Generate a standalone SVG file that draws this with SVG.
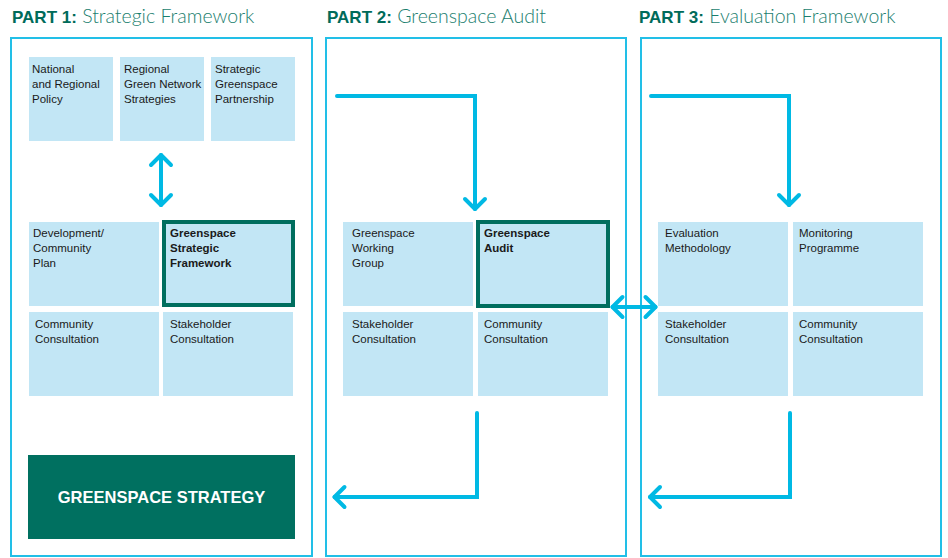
<svg xmlns="http://www.w3.org/2000/svg" width="948" height="558" viewBox="0 0 948 558">
<style>
.panel{fill:#fff;stroke:#22bfe7;stroke-width:2}
.box{fill:#c2e6f5}
.key{fill:#c2e6f5;stroke:#006e5e;stroke-width:4}
.t{font-family:"Liberation Sans",Arial,sans-serif;font-size:11.5px;fill:#1a1a1a}
.b{font-weight:bold}
.title{font-family:"Liberation Sans",Arial,sans-serif;fill:#006b5a}
.tb{font-weight:bold;font-size:17px}
.tr{font-family:Lato,"Liberation Sans",sans-serif;font-weight:300;font-size:19.5px;fill:#1a7e6e}
.con{fill:none;stroke:#00b9e4;stroke-width:4;stroke-linecap:round;stroke-linejoin:miter}
</style>
<defs>
<marker id="chev" viewBox="-14 -14 28 28" markerWidth="28" markerHeight="28" markerUnits="userSpaceOnUse" orient="auto-start-reverse" refX="0" refY="0">
<path d="M-10,-10 L0,0 L-10,10" fill="none" stroke="#00b9e4" stroke-width="4" stroke-linecap="round" stroke-linejoin="round"/>
</marker>
</defs>
<rect width="948" height="558" fill="#fff"/>

<g id="titles">
<text class="title" x="12" y="23"><tspan class="tb">PART 1:</tspan><tspan class="tr"> Strategic Framework</tspan></text>
<text class="title" x="327" y="23"><tspan class="tb">PART 2:</tspan><tspan class="tr"> Greenspace Audit</tspan></text>
<text class="title" x="639" y="23"><tspan class="tb">PART 3:</tspan><tspan class="tr"> Evaluation Framework</tspan></text>
</g>

<g id="panel1"><rect class="panel" x="11" y="38" width="301" height="518"/></g>
<g id="panel2"><rect class="panel" x="326" y="38" width="300" height="518"/></g>
<g id="panel3"><rect class="panel" x="641" y="38" width="300" height="518"/></g>

<g id="national-policy"><rect class="box" x="29" y="57" width="84" height="84"/>
<text class="t" x="32" y="73">National<tspan x="32" dy="15">and Regional</tspan><tspan x="32" dy="15">Policy</tspan></text></g>
<g id="regional-strategies"><rect class="box" x="120" y="57" width="84" height="84"/>
<text class="t" x="124" y="73">Regional<tspan x="124" dy="15">Green Network</tspan><tspan x="124" dy="15">Strategies</tspan></text></g>
<g id="strategic-partnership"><rect class="box" x="211" y="57" width="84" height="84"/>
<text class="t" x="215" y="73">Strategic<tspan x="215" dy="15">Greenspace</tspan><tspan x="215" dy="15">Partnership</tspan></text></g>

<g id="development-plan"><rect class="box" x="29" y="222" width="130" height="84"/>
<text class="t" x="33" y="237">Development/<tspan x="33" dy="15">Community</tspan><tspan x="33" dy="15">Plan</tspan></text></g>
<g id="strategic-framework"><rect class="key" x="164" y="222" width="129" height="83"/>
<text class="t b" x="170" y="237">Greenspace<tspan x="170" dy="15">Strategic</tspan><tspan x="170" dy="15">Framework</tspan></text></g>
<g id="p1-community"><rect class="box" x="29" y="312" width="130" height="84"/>
<text class="t" x="35" y="328">Community<tspan x="35" dy="15">Consultation</tspan></text></g>
<g id="p1-stakeholder"><rect class="box" x="163" y="312" width="130" height="84"/>
<text class="t" x="170" y="328">Stakeholder<tspan x="170" dy="15">Consultation</tspan></text></g>

<g id="greenspace-strategy"><rect x="28" y="455" width="267" height="84" fill="#007060"/>
<text x="161.5" y="503" text-anchor="middle" font-family="'Liberation Sans',Arial,sans-serif" font-weight="bold" font-size="16.5" fill="#fff">GREENSPACE STRATEGY</text></g>

<g id="working-group"><rect class="box" x="343" y="222" width="130" height="84"/>
<text class="t" x="352" y="237">Greenspace<tspan x="352" dy="15">Working</tspan><tspan x="352" dy="15">Group</tspan></text></g>
<g id="greenspace-audit"><rect class="key" x="478" y="222" width="130" height="84"/>
<text class="t b" x="484" y="237">Greenspace<tspan x="484" dy="15">Audit</tspan></text></g>
<g id="p2-stakeholder"><rect class="box" x="343" y="312" width="130" height="84"/>
<text class="t" x="352" y="328">Stakeholder<tspan x="352" dy="15">Consultation</tspan></text></g>
<g id="p2-community"><rect class="box" x="478" y="312" width="130" height="84"/>
<text class="t" x="484" y="328">Community<tspan x="484" dy="15">Consultation</tspan></text></g>

<g id="evaluation-methodology"><rect class="box" x="658" y="222" width="130" height="84"/>
<text class="t" x="665" y="237">Evaluation<tspan x="665" dy="15">Methodology</tspan></text></g>
<g id="monitoring-programme"><rect class="box" x="793" y="222" width="130" height="84"/>
<text class="t" x="799" y="237">Monitoring<tspan x="799" dy="15">Programme</tspan></text></g>
<g id="p3-stakeholder"><rect class="box" x="658" y="312" width="130" height="84"/>
<text class="t" x="665" y="328">Stakeholder<tspan x="665" dy="15">Consultation</tspan></text></g>
<g id="p3-community"><rect class="box" x="793" y="312" width="130" height="84"/>
<text class="t" x="799" y="328">Community<tspan x="799" dy="15">Consultation</tspan></text></g>

<g id="connectors">
<path class="con" d="M161,155 V205" marker-start="url(#chev)" marker-end="url(#chev)"/>
<path class="con" d="M337,96 H475 V209" marker-end="url(#chev)"/>
<path class="con" d="M651,96 H789 V205" marker-end="url(#chev)"/>
<path class="con" d="M612.5,307 H655.5" marker-start="url(#chev)" marker-end="url(#chev)"/>
<path class="con" d="M477,413 V497 H334.5" marker-end="url(#chev)"/>
<path class="con" d="M790,413 V497 H650" marker-end="url(#chev)"/>
</g>
</svg>
